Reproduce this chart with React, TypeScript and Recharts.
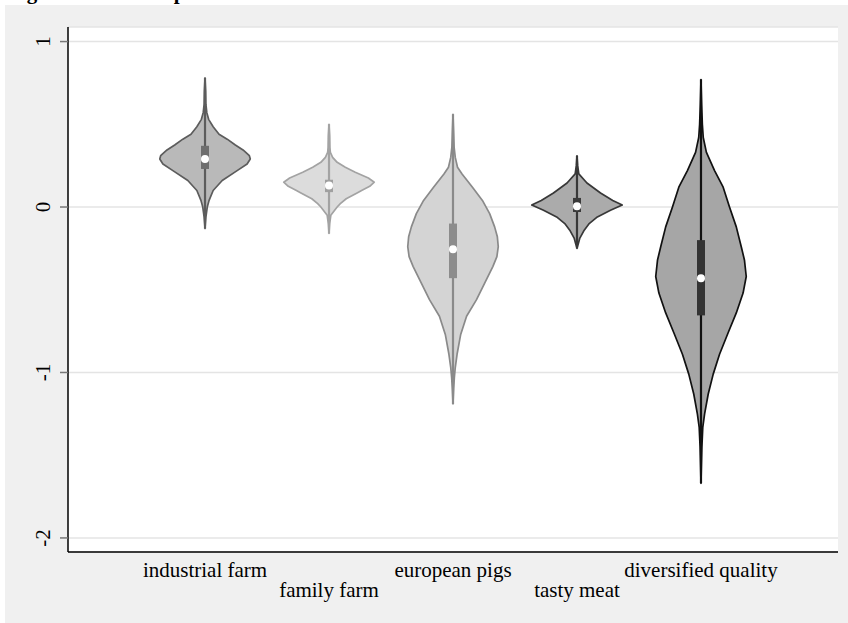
import { ScatterChart, Scatter, XAxis, YAxis, CartesianGrid } from "recharts";

const categories = ["industrial farm", "family farm", "european pigs", "tasty meat", "diversified quality"];
const yTicks = [-2, -1, 0, 1];

// violin outlines: heights and relative density (1 = widest point)
const industrialY = [0.78, 0.7, 0.62, 0.57, 0.53, 0.485, 0.44, 0.41, 0.375, 0.345, 0.31, 0.29, 0.26, 0.22, 0.16, 0.1, 0.04, 0.0, -0.06, -0.13];
const industrialD = [0, 0.015, 0.02, 0.04, 0.08, 0.18, 0.31, 0.49, 0.67, 0.84, 0.98, 1, 0.93, 0.71, 0.38, 0.18, 0.09, 0.05, 0.02, 0];

const familyY = [0.5, 0.43, 0.36, 0.33, 0.3, 0.27, 0.24, 0.21, 0.175, 0.15, 0.125, 0.1, 0.085, 0.05, 0.02, 0.0, -0.05, -0.1, -0.16];
const familyD = [0, 0.015, 0.02, 0.03, 0.08, 0.18, 0.36, 0.58, 0.87, 1, 0.9, 0.72, 0.62, 0.38, 0.25, 0.18, 0.04, 0.015, 0];

const europeanY = [0.56, 0.45, 0.36, 0.3, 0.24, 0.2, 0.12, 0.04, -0.04, -0.12, -0.18, -0.24, -0.3, -0.36, -0.46, -0.56, -0.66, -0.77, -0.89, -0.97, -1.03, -1.1, -1.19];
const europeanD = [0, 0.015, 0.025, 0.05, 0.1, 0.2, 0.43, 0.65, 0.81, 0.92, 0.98, 1, 0.97, 0.88, 0.7, 0.52, 0.3, 0.17, 0.09, 0.05, 0.03, 0.015, 0];

const tastyY = [0.31, 0.25, 0.2, 0.145, 0.085, 0.04, 0.012, -0.02, -0.06, -0.1, -0.14, -0.19, -0.22, -0.25];
const tastyD = [0, 0.015, 0.04, 0.22, 0.52, 0.79, 1, 0.74, 0.45, 0.27, 0.16, 0.06, 0.03, 0];

const diversifiedY = [0.77, 0.62, 0.5, 0.42, 0.33, 0.22, 0.12, 0.0, -0.12, -0.24, -0.32, -0.42, -0.52, -0.64, -0.76, -0.89, -1.01, -1.13, -1.25, -1.33, -1.45, -1.67];
const diversifiedD = [0, 0.015, 0.03, 0.05, 0.12, 0.3, 0.49, 0.63, 0.78, 0.89, 0.96, 1, 0.93, 0.78, 0.6, 0.41, 0.27, 0.16, 0.08, 0.04, 0.02, 0];

// box plot summaries per category
const lowerAdj = [-0.13, -0.16, -1.19, -0.25, -1.67];
const upperAdj = [0.78, 0.5, 0.56, 0.31, 0.77];
const q1 = [0.23, 0.09, -0.43, -0.03, -0.655];
const q3 = [0.37, 0.165, -0.1, 0.055, -0.2];
const medians = [0.29, 0.13, -0.255, 0.005, -0.43];

const HALF = 0.365; // widest half-width in category units

const styles = [
    { fill: "#b9b9b9", stroke: "#5c5c5c", box: "#6e6e6e" },
    { fill: "#dcdcdc", stroke: "#a3a3a3", box: "#a0a0a0" },
    { fill: "#d4d4d4", stroke: "#8a8a8a", box: "#8c8c8c" },
    { fill: "#ababab", stroke: "#383838", box: "#3a3a3a" },
    { fill: "#a6a6a6", stroke: "#111111", box: "#333333" },
];

const outlines = [
    [industrialY, industrialD],
    [familyY, familyD],
    [europeanY, europeanD],
    [tastyY, tastyD],
    [diversifiedY, diversifiedD],
];

function outlinePoints(pos: number, ys: number[], ds: number[]) {
    const left = ys.map((y, i) => ({ x: pos - ds[i] * HALF, y }));
    const right = ys.map((y, i) => ({ x: pos + ds[i] * HALF, y })).reverse();
    return [...left, ...right];
}

const noDot = () => <g />;

const violinPath = (fill: string, stroke: string) => (props: any) => {
    const pts = (props.points || []) as { x: number; y: number }[];
    const d = pts.map((p, i) => `${i ? "L" : "M"}${p.x},${p.y}`).join("") + "Z";
    return <path d={d} fill={fill} stroke={stroke} strokeWidth={1.7} strokeLinejoin="round" />;
};

const FONT = "'Liberation Serif', 'Times New Roman', serif";

function XTick({ x, y, payload }: any) {
    const v = payload.value as number;
    const label = categories[v - 1];
    const dy = v % 2 === 0 ? 45 : 25;
    return (
        <text x={x} y={y + dy} textAnchor="middle" fontFamily={FONT} fontSize={21} fill="#000">
            {label}
        </text>
    );
}

function YTick({ x, y, payload }: any) {
    const tx = x - 10;
    return (
        <text
            x={tx}
            y={y}
            transform={`rotate(-90, ${tx}, ${y})`}
            textAnchor="middle"
            fontFamily={FONT}
            fontSize={21}
            fill="#000"
        >
            {payload.value}
        </text>
    );
}

export default function App() {
    return (
        <div style={{ position: "absolute", left: 0, top: 0, width: 848, height: 623, background: "#fff", overflow: "hidden" }}>
            <div
                style={{
                    position: "absolute",
                    left: 8,
                    top: -18,
                    fontFamily: FONT,
                    fontWeight: "bold",
                    fontSize: 21,
                    whiteSpace: "nowrap",
                    lineHeight: "21px",
                }}
            >
                Figure 2: Attitude profiles
            </div>
            <div style={{ position: "absolute", left: 5, top: 5, width: 843, height: 618, background: "#f0f0f0" }}>
                <ScatterChart width={843} height={618} margin={{ top: 22, right: 10, bottom: 0, left: 0 }}>
                    <CartesianGrid vertical={false} stroke="#e4e4e4" strokeWidth={1.5} fill="#ffffff" fillOpacity={1} />
                    <XAxis
                        type="number"
                        dataKey="x"
                        domain={[-0.105, 6.105]}
                        ticks={[1, 2, 3, 4, 5]}
                        tick={<XTick />}
                        tickLine={false}
                        tickSize={0}
                        tickMargin={0}
                        height={71}
                        axisLine={{ stroke: "#000", strokeWidth: 1.5 }}
                        interval={0}
                    />
                    <YAxis
                        type="number"
                        dataKey="y"
                        domain={[-2.085, 1.088]}
                        ticks={yTicks}
                        tick={<YTick />}
                        tickSize={8}
                        tickMargin={0}
                        width={63}
                        tickLine={{ stroke: "#777", strokeWidth: 1.5 }}
                        axisLine={{ stroke: "#000", strokeWidth: 1.5 }}
                        interval={0}
                    />
                    {outlines.map(([ys, ds], i) => (
                        <Scatter
                            key={`v${i}`}
                            data={outlinePoints(i + 1, ys, ds)}
                            shape={noDot}
                            line={violinPath(styles[i].fill, styles[i].stroke)}
                            isAnimationActive={false}
                        />
                    ))}
                    {categories.map((_, i) => (
                        <Scatter
                            key={`w${i}`}
                            data={[
                                { x: i + 1, y: upperAdj[i] },
                                { x: i + 1, y: lowerAdj[i] },
                            ]}
                            shape={noDot}
                            line={{ stroke: styles[i].stroke, strokeWidth: 2.2 }}
                            isAnimationActive={false}
                        />
                    ))}
                    {categories.map((_, i) => (
                        <Scatter
                            key={`b${i}`}
                            data={[
                                { x: i + 1, y: q3[i] },
                                { x: i + 1, y: q1[i] },
                            ]}
                            shape={noDot}
                            line={{ stroke: styles[i].box, strokeWidth: 8, strokeLinecap: "butt" }}
                            isAnimationActive={false}
                        />
                    ))}
                    {categories.map((_, i) => (
                        <Scatter
                            key={`m${i}`}
                            data={[{ x: i + 1, y: medians[i] }]}
                            shape={(p: any) => <circle cx={p.cx} cy={p.cy} r={4} fill="#fff" />}
                            isAnimationActive={false}
                        />
                    ))}
                </ScatterChart>
            </div>
        </div>
    );
}
